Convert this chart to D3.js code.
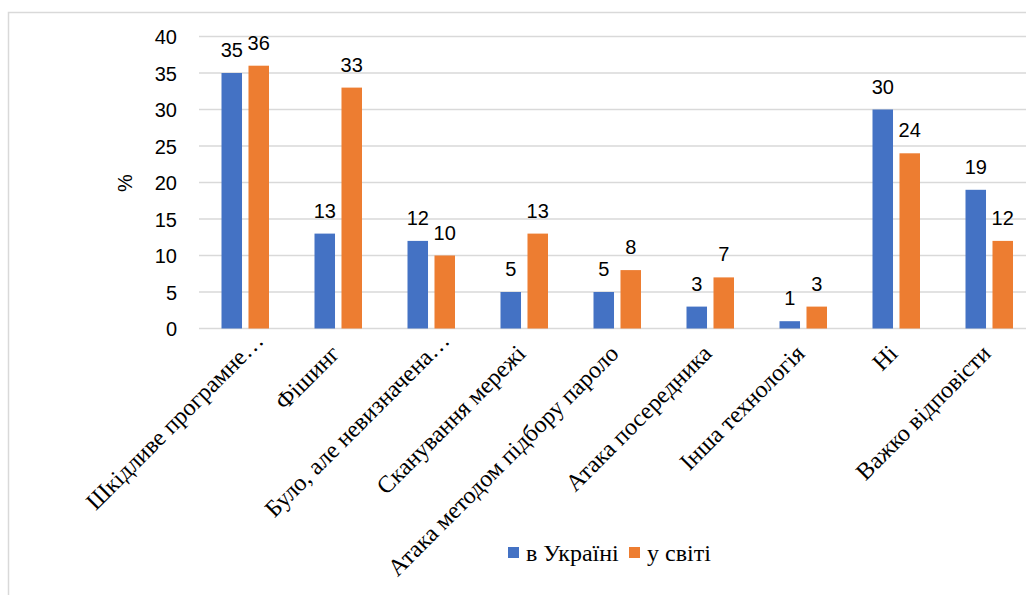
<!DOCTYPE html>
<html><head><meta charset="utf-8">
<script src="https://cdn.jsdelivr.net/npm/d3@7"></script>
<style>
body{margin:0;background:#fff}svg{display:block}
.serif{font-family:"Liberation Serif","Times New Roman",serif}
.sans{font-family:"Liberation Sans",Arial,sans-serif}
</style>
</head><body>
<svg id="c" width="1026" height="595"></svg>
<script>
const categories = ["Шкідливе програмне…","Фішинг","Було, але невизначена…","Сканування мережі","Атака методом підбору пароло","Атака посередника","Інша технологія","Ні","Важко відповісти"];
const seriesNames = ["в Україні","у світі"];
const ukraine = [35,13,12,5,5,3,1,30,19];
const world = [36,33,10,13,8,7,3,24,12];
const yTicks = [0,5,10,15,20,25,30,35,40];
const colors = ["#4472C4","#ED7D31"];

const svg = d3.select("#c");
svg.append("rect").attr("x",8.5).attr("y",12.5).attr("width",1100).attr("height",700)
  .attr("fill","none").attr("stroke","#d9d9d9").attr("stroke-width",1.5);

const x = d3.scaleBand().domain(categories).range([198.5, 1035.5]);
const xs = d3.scaleBand().domain(seriesNames).range([23, 70.5]).paddingInner(0.24);
const y = d3.scaleLinear().domain([0,40]).range([328.5, 36.5]);

svg.append("g").selectAll("line").data(yTicks).join("line")
  .attr("x1",199).attr("x2",1026).attr("y1",d=>y(d)).attr("y2",d=>y(d))
  .attr("stroke","#d9d9d9").attr("stroke-width",1.5);

const yAxis = d3.axisLeft(y).tickValues(yTicks).tickSize(0).tickPadding(0);
const ga = svg.append("g").attr("transform","translate(177,0)").call(yAxis);
ga.select(".domain").remove();
ga.attr("font-family",null).attr("font-size",null);
ga.selectAll("text").attr("class","sans").style("font-size","20px").attr("fill","#000").attr("dy","0.35em");

svg.append("text").attr("class","sans").attr("transform","translate(132,183) rotate(-90)").attr("text-anchor","middle")
  .style("font-size","20px").text("%");

const data = seriesNames.map((s,i)=>({name:s, color:colors[i], values:(i===0?ukraine:world)}));
data.forEach(s=>{
  const g = svg.append("g");
  g.selectAll("rect").data(s.values).join("rect")
    .attr("x",(d,i)=>x(categories[i])+xs(s.name))
    .attr("width",xs.bandwidth())
    .attr("y",d=>y(d)).attr("height",d=>y(0)-y(d)).attr("fill",s.color);
  g.selectAll("text").data(s.values).join("text").attr("class","sans")
    .attr("x",(d,i)=>x(categories[i])+xs(s.name)+xs.bandwidth()/2)
    .attr("y",d=>y(d)-16).attr("text-anchor","middle")
    .style("font-size","20px").attr("fill","#000")
    .text(d=>d);
});

svg.append("g").selectAll("text").data(categories).join("text").attr("class","serif")
  .attr("transform",d=>{
    const c = x(d)+x.bandwidth()/2;
    return d.endsWith("…") ? `translate(${c+20},${342}) rotate(-45)` : `translate(${c+3},${355}) rotate(-45)`;
  })
  .attr("text-anchor","end")
  .style("font-size","24px").attr("fill","#000")
  .text(d=>d);

const lg = svg.append("g");
const lx = [508, 629];
seriesNames.forEach((s,i)=>{
  lg.append("rect").attr("x",lx[i]).attr("y",547).attr("width",11).attr("height",11).attr("fill",colors[i]);
  lg.append("text").attr("class","serif").attr("x",lx[i]+18).attr("y",561)
    .style("font-size","24px").attr("fill","#000").text(s);
});
</script>
</body></html>
